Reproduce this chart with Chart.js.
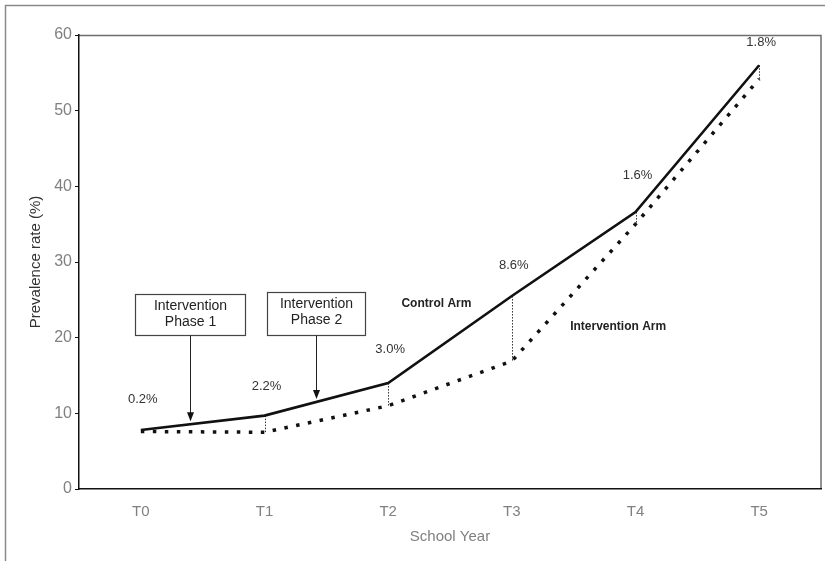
<!DOCTYPE html>
<html>
<head>
<meta charset="utf-8">
<script src="https://cdn.jsdelivr.net/npm/chart.js@4.4.0/dist/chart.umd.min.js"></script>
<style>
  html, body { margin: 0; background: #fff; }
  canvas { display: block; }
</style>
</head>
<body>
<canvas id="chart" width="825" height="561"></canvas>
<script>
// Prevalence by school year, control vs intervention arm.
const years = ["T0", "T1", "T2", "T3", "T4", "T5"];
const controlArm = [7.8, 9.7, 14.0, 25.5, 36.6, 56.0];
const interventionArm = [7.6, 7.5, 11.0, 16.9, 35.0, 54.2];
const gapLabels = ["0.2%", "2.2%", "3.0%", "8.6%", "1.6%", "1.8%"];
const yTicks = [0, 10, 20, 30, 40, 50, 60];
// where each gap label sits, in value units (index matches years)
const gapLabelY = [11.9, 13.6, 18.4, 29.5, 41.4, 59.0];

// Callout boxes: category position (fractional index) + top/bottom in value units
const phases = [
  { lines: ["Intervention", "Phase 1"], at: 0.40, top: 25.8, bottom: 20.4, w: 110 },
  { lines: ["Intervention", "Phase 2"], at: 1.42, top: 26.1, bottom: 20.4, w: 98 },
];
const armLabels = [
  { text: "Control Arm", at: 2.39, y: 24.5 },
  { text: "Intervention Arm", at: 3.86, y: 21.4 },
];

const FONT = '"Liberation Sans", Arial, sans-serif';
const GREY = "#808080";

// value of the control line at a fractional category index
function controlAt(i) {
  const a = Math.floor(i), t = i - a;
  return controlArm[a] + (controlArm[a + 1] - controlArm[a]) * t;
}

const decorations = {
  id: "decorations",
  beforeDraw(chart) {
    const { ctx, chartArea: ca } = chart;
    ctx.save();
    // outer figure frame (left + top only)
    ctx.strokeStyle = "#8a8a8a";
    ctx.lineWidth = 1.5;
    ctx.beginPath();
    ctx.moveTo(5.5, 561); ctx.lineTo(5.5, 5.5); ctx.lineTo(825, 5.5);
    ctx.stroke();
    // plot box top + right
    ctx.strokeStyle = "#6e6e6e";
    ctx.beginPath();
    ctx.moveTo(ca.left, ca.top + 0.5); ctx.lineTo(ca.right, ca.top + 0.5);
    ctx.lineTo(ca.right, ca.bottom);
    ctx.stroke();
    ctx.restore();
  },
  beforeDatasetsDraw(chart) {
    const { ctx, scales: { x, y } } = chart;
    ctx.save();
    ctx.strokeStyle = "#333";
    ctx.lineWidth = 1;
    ctx.setLineDash([1.5, 1.5]);
    years.forEach((_, i) => {
      if (i === 0) return;
      const px = Math.round(x.getPixelForValue(i)) + 0.5;
      ctx.beginPath();
      ctx.moveTo(px, y.getPixelForValue(controlArm[i]));
      ctx.lineTo(px, y.getPixelForValue(interventionArm[i]));
      ctx.stroke();
    });
    ctx.restore();
  },
  afterDatasetsDraw(chart) {
    const { ctx, scales: { x, y } } = chart;
    ctx.save();
    ctx.textAlign = "center";
    ctx.textBaseline = "middle";

    // difference labels
    ctx.fillStyle = "#333";
    ctx.font = "13px " + FONT;
    gapLabels.forEach((t, i) => {
      ctx.fillText(t, x.getPixelForValue(i) + 2, y.getPixelForValue(gapLabelY[i]));
    });

    // arm labels
    ctx.fillStyle = "#222";
    ctx.font = "bold 12px " + FONT;
    armLabels.forEach((a) => {
      ctx.fillText(a.text, x.getPixelForValue(a.at), y.getPixelForValue(a.y));
    });

    // phase callouts
    phases.forEach((p) => {
      const cx = Math.round(x.getPixelForValue(p.at)) + 0.5;
      const top = Math.round(y.getPixelForValue(p.top)) + 0.5;
      const bot = Math.round(y.getPixelForValue(p.bottom)) + 0.5;
      ctx.fillStyle = "#fff";
      ctx.fillRect(cx - p.w / 2, top, p.w, bot - top);
      ctx.strokeStyle = "#444";
      ctx.lineWidth = 1.2;
      ctx.strokeRect(cx - p.w / 2, top, p.w, bot - top);
      ctx.fillStyle = "#222";
      ctx.font = "14px " + FONT;
      ctx.fillText(p.lines[0], cx, top + 12);
      ctx.fillText(p.lines[1], cx, top + 28);
      // arrow down to the control line
      const tip = y.getPixelForValue(controlAt(p.at)) - 3;
      ctx.strokeStyle = "#222";
      ctx.lineWidth = 1;
      ctx.beginPath();
      ctx.moveTo(cx, bot); ctx.lineTo(cx, tip - 7);
      ctx.stroke();
      ctx.fillStyle = "#111";
      ctx.beginPath();
      ctx.moveTo(cx, tip); ctx.lineTo(cx - 3.5, tip - 9); ctx.lineTo(cx + 3.5, tip - 9);
      ctx.closePath();
      ctx.fill();
    });
    ctx.restore();
  },
};

new Chart(document.getElementById("chart"), {
  type: "line",
  data: {
    labels: years,
    datasets: [
      {
        label: "Control Arm",
        data: controlArm,
        borderColor: "#111",
        borderWidth: 2.6,
        pointRadius: 0,
        tension: 0,
      },
      {
        label: "Intervention Arm",
        data: interventionArm,
        borderColor: "#111",
        borderWidth: 3.5,
        borderDash: [3.5, 8.5],
        borderCapStyle: "butt",
        pointRadius: 0,
        tension: 0,
      },
    ],
  },
  options: {
    responsive: false,
    animation: false,
    layout: { padding: { top: 35, right: 4, left: 0, bottom: 0 } },
    plugins: { legend: { display: false }, tooltip: { enabled: false } },
    scales: {
      x: {
        offset: true,
        grid: { display: false },
        border: { display: true, color: "#111", width: 1.5 },
        ticks: { color: GREY, font: { family: FONT, size: 15 }, padding: 6 },
        title: {
          display: true, text: "School Year", color: GREY,
          font: { family: FONT, size: 15 }, padding: { top: 0, bottom: 15 },
        },
        afterFit(s) { s.height = 72; },
      },
      y: {
        min: 0, max: 60,
        afterBuildTicks(s) { s.ticks = yTicks.map((v) => ({ value: v })); },
        grid: { drawOnChartArea: false, drawTicks: true, tickLength: 4, tickColor: "#111" },
        border: { display: true, color: "#111", width: 1.5 },
        ticks: { color: GREY, font: { family: FONT, size: 16 }, padding: 3 },
        title: {
          display: true, text: "Prevalence rate (%)", color: "#333",
          font: { family: FONT, size: 15 }, padding: { top: 27, bottom: 0 },
        },
        afterFit(s) { s.width = 79; },
      },
    },
  },
  plugins: [decorations],
});
</script>
</body>
</html>
